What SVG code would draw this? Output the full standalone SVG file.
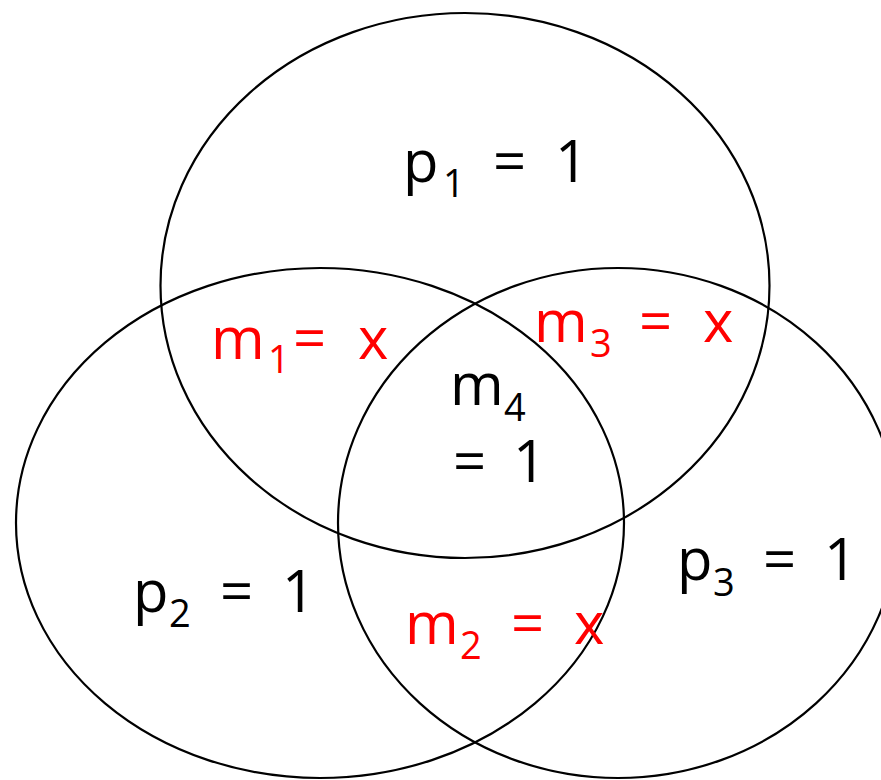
<svg xmlns="http://www.w3.org/2000/svg" width="881" height="780" viewBox="0 0 881 780">
<style>
.c{fill:none;stroke:#000;stroke-width:2.2}
text{font-family:"Open Sans","Noto Sans","DejaVu Sans",sans-serif;font-size:58px}
.s{font-size:38px}
.k{fill:#000}
.r{fill:#FF0000}
</style>
<rect width="881" height="780" fill="#fff"/>
<g id="set-p1"><ellipse class="c" cx="465" cy="285.5" rx="304.5" ry="272.5"/></g>
<g id="set-p2"><ellipse class="c" cx="320" cy="523" rx="304" ry="255"/></g>
<g id="set-p3"><ellipse class="c" cx="618" cy="523" rx="280" ry="255"/></g>
<g id="label-p1"><text class="k"><tspan x="403" y="182">p</tspan><tspan class="s" x="443" y="197">1</tspan><tspan x="493" y="182">=</tspan><tspan x="555" y="182">1</tspan></text></g>
<g id="label-m1"><text class="r"><tspan x="211" y="359">m</tspan><tspan class="s" x="268" y="373">1</tspan><tspan x="293" y="359">=</tspan><tspan x="358" y="359">x</tspan></text></g>
<g id="label-m3"><text class="r"><tspan x="534" y="342">m</tspan><tspan class="s" x="590" y="357">3</tspan><tspan x="639" y="342">=</tspan><tspan x="703" y="342">x</tspan></text></g>
<g id="label-m4"><text class="k"><tspan x="450" y="405">m</tspan><tspan class="s" x="504" y="421">4</tspan><tspan x="453" y="482">=</tspan><tspan x="513" y="482">1</tspan></text></g>
<g id="label-p2"><text class="k"><tspan x="133" y="612">p</tspan><tspan class="s" x="169" y="627">2</tspan><tspan x="220" y="612">=</tspan><tspan x="282" y="612">1</tspan></text></g>
<g id="label-p3"><text class="k"><tspan x="677" y="580">p</tspan><tspan class="s" x="713" y="596">3</tspan><tspan x="763" y="580">=</tspan><tspan x="824" y="580">1</tspan></text></g>
<g id="label-m2"><text class="r"><tspan x="405" y="644">m</tspan><tspan class="s" x="460" y="659">2</tspan><tspan x="511" y="644">=</tspan><tspan x="574" y="644">x</tspan></text></g>
<g id="connectors"></g>
</svg>
